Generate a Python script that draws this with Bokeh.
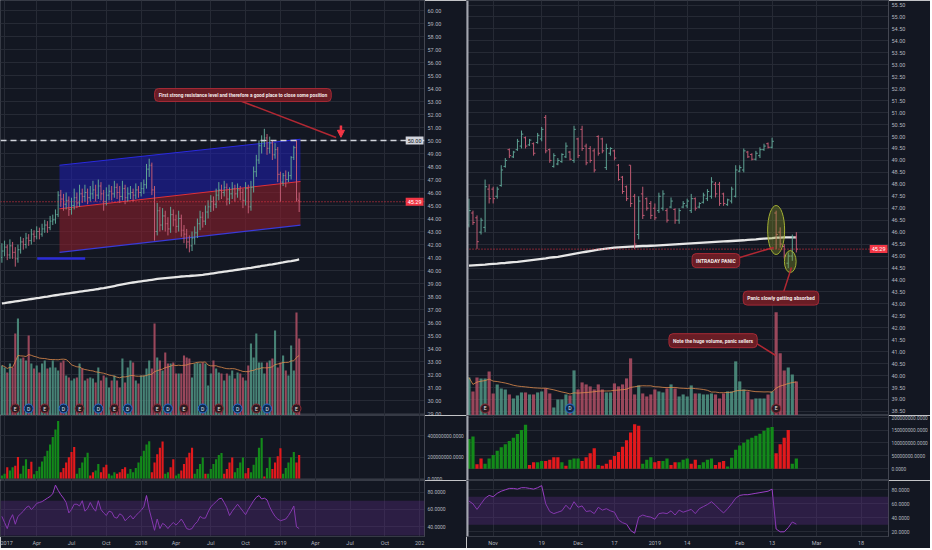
import numpy as np
import pandas as pd
from bokeh.plotting import figure
from bokeh.models import (Range1d, FixedTicker, NumeralTickFormatter, ColumnDataSource,
                          Label, Span, Arrow, NormalHead, BoxAnnotation)
from bokeh.layouts import row, column
from bokeh.embed import file_html
from bokeh.resources import INLINE
from bokeh.core.properties import value

# ---------------- DATA: left chart (weekly bars, 2017 - Feb 2019) ----------------
opens_w = [41.0, 41.5, 41.8, 41.2, 41.9, 41.4, 40.9, 41.6, 42.2, 42.0,
           42.5, 42.3, 42.8, 42.6, 43.0, 42.8, 43.2, 43.5, 43.3, 43.8,
           43.9, 44.3, 45.8, 45.5, 45.1, 45.4, 44.7, 45.0, 45.6, 45.2,
           45.9, 45.7, 46.0, 45.6, 45.9, 46.2, 45.8, 46.5, 45.9, 45.3,
           45.8, 46.1, 45.9, 46.4, 46.0, 45.7, 46.3, 45.6, 45.9, 46.0,
           45.8, 46.2, 46.0, 46.3, 46.6, 47.8, 48.1, 46.2, 43.0, 44.6,
           43.5, 44.2, 43.6, 43.2, 44.3, 43.9, 43.4, 44.0, 43.1, 42.8,
           42.2, 41.9, 42.5, 42.9, 43.6, 44.1, 43.8, 44.5, 44.9, 45.3,
           45.1, 45.8, 46.2, 46.0, 46.4, 45.5, 45.9, 46.3, 45.9, 46.2,
           46.0, 45.4, 46.3, 44.9, 46.4, 47.6, 48.5, 49.6, 49.9, 50.2,
           49.4, 49.8, 48.9, 49.3, 47.4, 46.8, 47.3, 47.0, 47.3, 48.7,
           49.45, 45.4]
highs_w = [42.1, 42.3, 42.0, 42.4, 42.2, 41.8, 42.0, 42.6, 42.5, 42.9,
           42.8, 43.2, 43.1, 43.4, 43.3, 43.6, 43.9, 43.8, 44.2, 44.3,
           44.7, 46.1, 46.2, 45.9, 46.0, 45.7, 45.6, 46.3, 46.0, 46.6,
           46.3, 46.6, 46.3, 46.5, 46.9, 46.6, 47.0, 46.8, 46.2, 46.4,
           46.6, 46.5, 46.9, 46.7, 46.5, 46.9, 46.6, 46.4, 46.5, 46.3,
           46.7, 46.5, 46.8, 47.0, 48.2, 48.6, 48.3, 46.5, 45.2, 44.9,
           44.8, 44.6, 44.1, 44.9, 44.7, 44.3, 44.6, 44.3, 43.5, 43.2,
           42.7, 43.0, 43.4, 44.0, 44.6, 44.5, 45.0, 45.4, 45.8, 45.7,
           46.3, 46.8, 46.6, 46.9, 46.7, 46.4, 46.8, 46.6, 46.7, 46.5,
           46.3, 46.8, 46.6, 46.9, 48.0, 48.9, 50.0, 50.4, 50.9, 50.5,
           50.3, 50.0, 49.8, 49.5, 47.6, 47.5, 47.7, 47.6, 48.8, 49.6,
           50.0, 46.0]
lows_w = [40.6, 41.1, 40.8, 40.9, 40.9, 40.3, 40.6, 41.3, 41.6, 41.7,
          41.9, 42.0, 42.2, 42.4, 42.4, 42.6, 42.9, 42.9, 43.1, 43.5,
          43.6, 44.1, 44.9, 44.6, 44.7, 44.2, 44.3, 44.7, 44.8, 44.9,
          45.2, 45.3, 45.1, 45.3, 45.5, 45.3, 45.5, 45.4, 44.6, 45.0,
          45.4, 45.4, 45.6, 45.5, 45.2, 45.4, 45.1, 45.3, 45.5, 45.3,
          45.5, 45.6, 45.7, 45.9, 46.3, 47.2, 45.8, 42.3, 42.7, 43.0,
          43.1, 43.0, 42.7, 42.9, 43.4, 42.9, 43.0, 42.6, 42.1, 41.7,
          41.4, 41.5, 42.0, 42.5, 43.1, 43.3, 43.5, 44.0, 44.5, 44.6,
          44.8, 45.4, 45.5, 45.7, 45.0, 45.1, 45.5, 45.3, 45.6, 45.4,
          44.8, 45.0, 44.4, 44.6, 46.0, 47.2, 48.2, 49.0, 49.5, 48.9,
          49.0, 48.5, 48.6, 46.8, 45.3, 46.5, 46.4, 46.8, 47.0, 48.5,
          45.3, 44.5]
closes_w = [41.5, 41.8, 41.2, 41.9, 41.4, 40.9, 41.6, 42.2, 42.0, 42.5,
            42.3, 42.8, 42.6, 43.0, 42.8, 43.2, 43.5, 43.3, 43.8, 43.9,
            44.3, 45.8, 45.5, 45.1, 45.4, 44.7, 45.0, 45.6, 45.2, 45.9,
            45.7, 46.0, 45.6, 45.9, 46.2, 45.8, 46.5, 45.9, 45.3, 45.8,
            46.1, 45.9, 46.4, 46.0, 45.7, 46.3, 45.6, 45.9, 46.0, 45.8,
            46.2, 46.0, 46.3, 46.6, 47.8, 48.1, 46.2, 43.0, 44.6, 43.5,
            44.2, 43.6, 43.2, 44.3, 43.9, 43.4, 44.0, 43.1, 42.8, 42.2,
            41.9, 42.5, 42.9, 43.6, 44.1, 43.8, 44.5, 44.9, 45.3, 45.1,
            45.8, 46.2, 46.0, 46.4, 45.5, 45.9, 46.3, 45.9, 46.2, 46.0,
            45.4, 46.3, 44.9, 46.4, 47.6, 48.5, 49.6, 49.9, 50.2, 49.4,
            49.8, 48.9, 49.3, 47.4, 46.8, 47.3, 47.0, 47.3, 48.7, 49.45,
            45.5, 45.29]
# relative volume (the overlay scale is hidden in the reference)
vol_w = [50, 48, 43, 52, 48, 82, 97, 57, 58, 55,
         80, 52, 47, 50, 43, 52, 55, 47, 48, 55,
         48, 45, 53, 55, 40, 38, 35, 37, 38, 52,
         47, 35, 37, 38, 37, 33, 48, 35, 40, 38,
         28, 35, 40, 35, 28, 57, 33, 48, 55, 53,
         35, 32, 40, 40, 47, 55, 47, 92, 58, 55,
         45, 63, 52, 52, 53, 42, 42, 42, 60, 58,
         57, 38, 52, 53, 52, 53, 52, 30, 42, 55,
         47, 43, 42, 35, 42, 40, 45, 37, 43, 42,
         38, 35, 50, 72, 58, 82, 53, 53, 42, 53,
         55, 57, 85, 48, 53, 60, 45, 40, 70, 45,
         103, 77]
ma200_w = [37.48, 37.50, 37.53, 37.56, 37.59, 37.62, 37.65, 37.68, 37.72, 37.75,
           37.78, 37.81, 37.84, 37.87, 37.90, 37.94, 37.97, 38.00, 38.04, 38.07,
           38.10, 38.13, 38.16, 38.19, 38.22, 38.25, 38.28, 38.31, 38.34, 38.37,
           38.40, 38.43, 38.46, 38.49, 38.52, 38.55, 38.58, 38.62, 38.65, 38.69,
           38.73, 38.77, 38.81, 38.85, 38.89, 38.93, 38.97, 39.01, 39.05, 39.08,
           39.11, 39.14, 39.17, 39.20, 39.23, 39.26, 39.29, 39.32, 39.35, 39.38,
           39.40, 39.42, 39.44, 39.46, 39.48, 39.50, 39.52, 39.54, 39.55, 39.57,
           39.58, 39.60, 39.61, 39.63, 39.65, 39.67, 39.70, 39.73, 39.76, 39.79,
           39.82, 39.85, 39.88, 39.91, 39.94, 39.97, 40.00, 40.03, 40.06, 40.09,
           40.12, 40.15, 40.18, 40.21, 40.25, 40.28, 40.31, 40.35, 40.38, 40.41,
           40.45, 40.48, 40.52, 40.55, 40.59, 40.62, 40.66, 40.70, 40.73, 40.77,
           40.81, 40.85]
# accumulated-volume histogram, millions (sign = green / red)
acc_w = [30, 45, -106, 76, 106, -120, -203, 45, 120, 182, -90, -158,
         40, 70, 110, 160, 210, 260, 320, 390, 460, 540,
         -60, -100, -150, -200, -250, -295,
         45, 100, 150, 200, 242,
         -30, -60, 76, 136, -60, -106, -130, 45, 30, 60,
         -45, -60, -90, -106, 45, 90,
         60, 100, 150, 210, 260, 320, 350,
         -60, -150, -227, -288, -348,
         45, 60, -106, -182, 30, 45,
         -76, -136, -197, -242, -288,
         45, 90, 136, 197, -45,
         45, 90, 136, 180, 220, 240,
         -45, -90, -150, -197,
         60, 100, 150, 197, -50, -100,
         60, 130, 200, 290, 380, -20, 100, 200,
         -90, -150, -210, -285,
         45, 100, 150, 200, 250, -150, -222]
rsi_w = [52, 45, 38, 48, 54, 43, 52, 55, 58, 62,
         64, 60, 63, 67, 68, 69, 71, 73, 75, 78,
         88, 82, 77, 73, 68, 56, 60, 66, 66, 64,
         70, 58, 61, 68, 62, 58, 70, 60, 56, 53,
         58, 57, 51, 50, 55, 53, 47, 50, 53, 49,
         53, 56, 59, 63, 76, 60, 48, 36, 49, 38,
         44, 42, 38, 42, 45, 42, 45, 49, 44, 38,
         37, 38, 43, 46, 52, 50, 50, 57, 63, 66,
         69, 72, 73, 68, 62, 53, 58, 62, 66, 62,
         58, 54, 60, 65, 70, 74, 76, 72, 73, 71,
         63, 57, 52, 49, 47, 48, 49, 53, 58, 64,
         40, 38]
earnings_w = [5, 16, 29, 42, 58, 68, 81, 95, 110]
dividends_w = [10, 23, 36, 47, 62, 75, 88, 99]
channel_bars = [22, 111]
channel_upper = [48.1, 50.1]
channel_mid = [44.75, 46.85]
channel_lower = [41.4, 43.5]
resistance_level = 50.00
last_price = 45.29
left_tick_pos = [1, 13, 26, 39, 52, 65, 78, 91, 104, 117, 130, 143, 156]
left_tick_labels = ["2017", "Apr", "Jul", "Oct", "2018", "Apr", "Jul", "Oct",
                    "2019", "Apr", "Jul", "Oct", "202"]

# ---------------- DATA: right chart (daily bars, 24 Oct 2018 - 22 Feb 2019) ----------------
opens_d = [46.3, 46.8, 46.6, 46.0, 46.2, 47.8, 47.8,
           47.5, 47.95, 48.75, 49.45, 49.15, 49.45, 49.6, 49.95, 49.65, 49.7,
           49.75, 49.9, 50.8, 49.45, 48.75, 48.85, 48.95, 49.15, 49.35, 49.0,
           49.9, 50.3, 49.6, 49.5, 49.4, 50.0, 49.9, 48.7, 49.3, 49.4,
           48.8, 48.3, 47.9, 48.8, 47.5, 45.9, 47.6, 47.4, 47.2, 47.0,
           46.9, 47.0, 46.9, 47.05, 46.95, 46.5, 47.05, 47.1, 46.9, 47.4,
           47.05, 47.25, 47.4, 47.5, 48.0, 48.0, 47.6, 47.15, 47.3, 47.5,
           48.55, 48.6, 49.35, 49.25, 49.05, 49.2, 49.45, 49.7, 49.55, 46.8,
           46.0, 45.4, 44.7, 45.0, 45.8]
highs_d = [47.4, 46.9, 46.7, 46.6, 48.2, 48.0, 47.9,
           47.9, 48.8, 49.1, 49.5, 49.4, 49.9, 50.25, 50.0, 49.9, 49.75,
           50.15, 50.4, 50.9, 49.5, 49.3, 49.1, 49.3, 49.75, 49.4, 50.45,
           49.95, 50.45, 49.7, 49.6, 49.5, 50.05, 49.95, 49.7, 49.55, 49.45,
           48.85, 48.35, 47.95, 48.8, 47.6, 47.5, 47.9, 47.45, 47.3, 47.2,
           47.65, 47.75, 47.0, 47.45, 47.0, 47.0, 47.3, 47.4, 47.6, 47.45,
           47.25, 47.65, 47.8, 48.3, 48.1, 48.1, 47.65, 47.4, 47.9, 48.8,
           48.8, 49.5, 49.4, 49.3, 49.4, 49.55, 49.7, 49.75, 49.95, 46.9,
           46.2, 45.5, 45.15, 45.9, 46.0]
lows_d = [46.2, 46.3, 45.3, 45.9, 46.0, 47.2, 47.2,
          47.4, 47.9, 48.7, 49.1, 49.1, 49.4, 49.5, 49.5, 49.6, 49.2,
          49.7, 49.8, 49.3, 48.9, 48.7, 48.8, 48.9, 49.1, 49.0, 48.9,
          49.1, 49.4, 48.8, 48.9, 48.5, 49.2, 49.3, 48.6, 49.2, 49.0,
          48.15, 47.6, 47.3, 47.05, 45.3, 45.7, 46.55, 46.9, 46.55, 46.5,
          46.8, 46.9, 46.4, 47.0, 46.35, 46.35, 47.0, 47.0, 46.8, 46.9,
          47.0, 47.2, 47.3, 47.4, 47.45, 47.1, 47.1, 47.1, 47.2, 47.45,
          48.5, 48.5, 49.1, 49.0, 49.0, 49.1, 49.4, 49.5, 49.5, 45.3,
          45.35, 44.9, 44.5, 44.8, 45.15]
closes_d = [46.9, 46.4, 45.6, 46.5, 47.9, 47.4, 47.4,
            47.8, 48.6, 49.0, 49.2, 49.35, 49.8, 50.1, 49.6, 49.85, 49.3,
            50.05, 50.3, 49.4, 49.0, 49.2, 49.0, 49.25, 49.6, 49.05, 50.3,
            49.2, 49.5, 48.9, 49.0, 48.6, 49.3, 49.4, 49.5, 49.5, 49.1,
            48.2, 47.7, 47.4, 47.2, 45.5, 47.3, 46.7, 47.0, 46.7, 46.6,
            47.5, 47.6, 46.5, 47.3, 46.5, 46.9, 47.2, 47.3, 47.4, 47.0,
            47.2, 47.55, 47.7, 48.1, 47.6, 47.2, 47.2, 47.35, 47.8, 48.6,
            48.7, 49.4, 49.15, 49.05, 49.3, 49.45, 49.6, 49.55, 49.8, 45.9,
            45.5, 45.0, 45.0, 45.8, 45.29]
vol_d = [38, 24, 38, 37, 37, 44, 22,
         31, 27, 26, 21, 17, 20, 23, 23, 21, 21,
         23, 24, 27, 22, 8, 16, 16, 21, 20, 45,
         26, 33, 31, 29, 26, 31, 26, 23, 23, 32,
         29, 31, 37, 57, 21, 30, 22, 19, 21, 26,
         24, 23, 27, 31, 27, 19, 21, 19, 30, 22,
         22, 21, 21, 22, 21, 17, 22, 24, 24, 54,
         34, 26, 24, 16, 17, 17, 17, 21, 24, 103,
         62, 45, 48, 41, 34]
ma200_d = [44.60, 44.61, 44.62, 44.63, 44.64, 44.66, 44.67,
           44.68, 44.70, 44.71, 44.73, 44.75, 44.76, 44.78, 44.80, 44.82, 44.84,
           44.86, 44.88, 44.90, 44.93, 44.95, 44.97, 45.00, 45.03, 45.06, 45.09,
           45.12, 45.15, 45.18, 45.21, 45.24, 45.27, 45.29, 45.31, 45.33, 45.35,
           45.36, 45.37, 45.38, 45.39, 45.40, 45.41, 45.42, 45.42, 45.43, 45.44,
           45.45, 45.46, 45.47, 45.48, 45.49, 45.50, 45.51, 45.52, 45.53, 45.54,
           45.55, 45.56, 45.57, 45.58, 45.59, 45.60, 45.61, 45.62, 45.63, 45.64,
           45.65, 45.66, 45.68, 45.69, 45.70, 45.72, 45.73, 45.74, 45.75, 45.77,
           45.77, 45.78, 45.78, 45.78, 45.78]
acc_d = [115, 125, -18, -40, 20, 40, 53,
         70, 83, 95, 108, 120, 135, 150, 170, -15, -25,
         25, 30, -30, -35, -45, -45, 25, -12, 35, 40,
         40, -30, -45, -60, -80, 15, -12, -20, -35, -50,
         -65, -85, -110, -140, -172, -166, 20, 35, 45, -25,
         -30, 30, 40, -15, -25, 25, 35, 40, -20, -35,
         15, 25, 35, 40, -15, -25, -30, 9, 43, 74,
         90, 101, 113, 120, 128, 136, 147, 159, 162, -60,
         -95, -120, -150, 20, 40]
rsi_d = [64, 60, 52, 60, 68, 72, 70,
         75, 78, 80, 82, 82, 81, 83, 83, 82, 81,
         83, 86, 60, 49, 46, 48, 50, 58, 52, 63,
         55, 57, 49, 50, 46, 55, 51, 53, 50, 48,
         37, 33, 31, 22, 18, 41, 44, 42, 41, 38,
         46, 47, 46, 50, 44, 51, 48, 50, 52, 46,
         53, 56, 59, 63, 58, 52, 47, 53, 60, 68,
         72, 73, 73, 74, 75, 76, 77, 78, 81, 24,
         20, 20, 26, 34, 31]
first_day = -6          # 24 Oct 2018; bar 0 = 1 Nov 2018
earnings_d = [-2, 70]
dividends_d = [19]
right_tick_pos = [0, 12, 21, 30, 40, 48, 61, 69, 80, 91]
right_tick_labels = ["Nov", "19", "Dec", "17", "2019", "14", "Feb", "13", "Mar", "18"]

for arr in (opens_w, highs_w, lows_w, closes_w, vol_w, ma200_w, acc_w, rsi_w):
    assert len(arr) == 112, len(arr)
for arr in (opens_d, highs_d, lows_d, closes_d, vol_d, ma200_d, acc_d, rsi_d):
    assert len(arr) == 82, len(arr)

# ---------------- STYLE ----------------
BG = "#131722"
GRID = "#262a35"
AXIS_TXT = "#b2b5be"
UP = "#5fa394"
DN = "#bf5a72"
VOL_UP = "#4e8f80"
VOL_DN = "#a84c62"
HIST_UP = "#138a1a"
HIST_DN = "#e3191c"
RED = "#f23645"
FONT = "Roboto"
RB = 40
H_MAIN, H_ACC, H_RSI = 415, 65, 68
W_LEFT, W_RIGHT = 466, 464


def make_fig(w, h, xr, yr, bottom=0):
    p = figure(width=w, height=h, x_range=xr, y_range=yr, output_backend="svg",
               toolbar_location=None, y_axis_location="right",
               background_fill_color=BG, border_fill_color=BG,
               min_border_left=0, min_border_right=RB, min_border_top=0,
               min_border_bottom=bottom, outline_line_color="#363a45")
    p.xgrid.grid_line_color = GRID
    p.ygrid.grid_line_color = GRID
    return p


def style_y(p, ticks, fmt, size):
    p.yaxis.ticker = FixedTicker(ticks=list(ticks))
    p.ygrid.ticker = FixedTicker(ticks=list(ticks))
    p.yaxis.formatter = NumeralTickFormatter(format=fmt)
    p.yaxis.major_label_text_font_size = size
    p.yaxis.major_label_text_color = AXIS_TXT
    p.yaxis.major_label_text_font = FONT
    p.yaxis.axis_line_color = "#434651"
    p.yaxis.major_tick_line_color = None
    p.yaxis.minor_tick_line_color = None
    p.yaxis.major_tick_out = 0
    p.yaxis.major_tick_in = 0
    p.yaxis.minor_tick_out = 0
    p.yaxis.minor_tick_in = 0
    p.yaxis.major_label_standoff = 3


def style_x(p, ticks, labels, show):
    p.xgrid.ticker = FixedTicker(ticks=ticks)
    if show:
        p.xaxis.ticker = FixedTicker(ticks=ticks)
        p.xaxis.major_label_overrides = {t: lab for t, lab in zip(ticks, labels)}
        p.xaxis.major_label_text_font_size = "5.5px"
        p.xaxis.major_label_text_color = AXIS_TXT
        p.xaxis.major_label_text_font = FONT
        p.xaxis.axis_line_color = "#363a45"
        p.xaxis.major_tick_line_color = None
        p.xaxis.minor_tick_line_color = None
        p.xaxis.major_tick_out = 0
        p.xaxis.major_tick_in = 0
        p.xaxis.minor_tick_out = 0
        p.xaxis.minor_tick_in = 0
        p.xaxis.major_label_standoff = 3
    else:
        p.xaxis.visible = False


def divider(p, xr):
    # light vertical separator between the two charts
    p.add_layout(Span(location=xr.start, dimension="height", line_color="#a3a6af",
                      line_width=4, level="overlay"))


def draw_volume(p, x, vol, o, c):
    cols = [VOL_UP if cc >= oo else VOL_DN for oo, cc in zip(o, c)]
    p.vbar(x=list(x), top=vol, bottom=0, width=0.78, fill_color=cols,
           line_color=None, fill_alpha=0.9, y_range_name="vol")
    vma = pd.Series(vol, dtype=float).rolling(20, min_periods=1).mean().tolist()
    p.line(list(x), vma, line_color="#e08b4c", line_width=0.8, y_range_name="vol")


def draw_ohlc(p, x, o, h, l, c, tick):
    cols = [UP if cc >= oo else DN for oo, cc in zip(o, c)]
    xs = list(x)
    src = ColumnDataSource(dict(x=xs, o=o, h=h, l=l, c=c, col=cols,
                                xl=[v - tick for v in xs], xr=[v + tick for v in xs]))
    p.segment(x0="x", y0="l", x1="x", y1="h", source=src, line_color="col", line_width=1)
    p.segment(x0="xl", y0="o", x1="x", y1="o", source=src, line_color="col", line_width=1)
    p.segment(x0="x", y0="c", x1="xr", y1="c", source=src, line_color="col", line_width=1)


def draw_events(p, xs, letter, fill, line, size):
    ys = [7] * len(xs)
    p.scatter(xs, ys, marker="circle", size=size, fill_color=fill, line_color=line,
              line_width=1, y_range_name="vol")
    p.text(xs, ys, text=[letter] * len(xs), text_font=value(FONT), text_font_size="5px",
           text_color="#e8e8e8", text_align="center", text_baseline="middle",
           y_range_name="vol")


def axis_tag(p, x, y, text, bg, fg):
    # price tag at the right edge of the pane (labels outside the frame are clipped)
    p.add_layout(Label(x=x, y=y, text=text, x_offset=-1, text_align="right",
                       text_baseline="middle", text_font_size="5.5px", text_font=FONT,
                       text_color=fg, background_fill_color=bg, background_fill_alpha=1.0,
                       padding=2, level="overlay"))


def callout(p, x, y, text, size):
    p.add_layout(Label(x=x, y=y, text=text, text_align="center", text_baseline="middle",
                       text_font_size=size, text_font_style="bold", text_font=FONT,
                       text_color="#f3e9e9", background_fill_color="#6e1d26",
                       background_fill_alpha=0.95, border_line_color="#a52a36",
                       border_line_width=1, padding=4, border_radius=4))


def draw_acc(p, x, acc):
    tops = [abs(a) * 1e6 for a in acc]
    cols = [HIST_UP if a > 0 else HIST_DN for a in acc]
    p.vbar(x=list(x), top=tops, bottom=0, width=0.8, fill_color=cols, line_color=None)


def draw_rsi(p, x, rsi):
    p.add_layout(BoxAnnotation(bottom=30, top=70, fill_color="#5b2c83", fill_alpha=0.35,
                               line_color=None))
    p.line(list(x), rsi, line_color="#9b3fc6", line_width=1)


# ---------------- LEFT ----------------
xw = list(range(len(closes_w)))
xr_l = Range1d(-0.52, 157.8)

pl = make_fig(W_LEFT, H_MAIN, xr_l, Range1d(28.85, 60.77))
pl.extra_y_ranges = {"vol": Range1d(0, 415)}
style_y(pl, range(29, 61), "0.00", "5.5px")
style_x(pl, left_tick_pos, left_tick_labels, False)
draw_volume(pl, xw, vol_w, opens_w, closes_w)

xa, xb = channel_bars[0] - 0.5, channel_bars[1] + 0.5
pl.patch([xa, xb, xb, xa], [channel_mid[0], channel_mid[1], channel_upper[1], channel_upper[0]],
         fill_color="#1f1fb4", fill_alpha=0.55, line_color=None)
pl.patch([xa, xb, xb, xa], [channel_lower[0], channel_lower[1], channel_mid[1], channel_mid[0]],
         fill_color="#8b1e2c", fill_alpha=0.6, line_color=None)
pl.line([xa, xb], channel_upper, line_color="#2a2ae0", line_width=1)
pl.line([xa, xb], channel_mid, line_color="#e0303a", line_width=1)
pl.line([xa, xb], channel_lower, line_color="#3a3ad8", line_width=1.3)
pl.line([13.2, 31.1], [40.92, 40.92], line_color="#2b2bd8", line_width=2.5)

pl.line(xw, ma200_w, line_color="#e6e6e6", line_width=2.3)
draw_ohlc(pl, xw, opens_w, highs_w, lows_w, closes_w, 0.4)
pl.add_layout(Span(location=resistance_level, dimension="width", line_color="#d1d4dc",
                   line_dash="6 4", line_width=1.4))
pl.add_layout(Span(location=last_price, dimension="width", line_color=RED,
                   line_dash="1 2", line_width=1))
draw_events(pl, earnings_w, "E", "#2b1b22", "#8d2a35", 9)
draw_events(pl, dividends_w, "D", "#0e2a4d", "#2a6fd6", 9)

pl.segment(x0=[88.7], y0=[53.08], x1=[124.8], y1=[50.23], line_color="#b22833", line_width=1.5)
callout(pl, 90, 53.5,
        "First strong resistance level and therefore a good place to close some position",
        "4.8px")
pl.add_layout(Arrow(end=NormalHead(size=7, fill_color=RED, line_color=RED),
                    x_start=126.6, y_start=51.15, x_end=126.6, y_end=50.25,
                    line_color=RED, line_width=2.5))
axis_tag(pl, xr_l.end, resistance_level, "50.00", "#d1d4dc", "#131722")
axis_tag(pl, xr_l.end, last_price, "45.29", RED, "#ffffff")

pa = make_fig(W_LEFT, H_ACC, xr_l, Range1d(-18e6, 591e6))
style_y(pa, [0, 200e6, 400e6], "0.0000", "4.8px")
style_x(pa, left_tick_pos, left_tick_labels, False)
draw_acc(pa, xw, acc_w)

pr = make_fig(W_LEFT, H_RSI, xr_l, Range1d(28.9, 93.3), bottom=12)
style_y(pr, [40, 60, 80], "0.0000", "5px")
style_x(pr, left_tick_pos, left_tick_labels, True)
draw_rsi(pr, xw, rsi_w)

# ---------------- RIGHT ----------------
xd = list(range(first_day, first_day + len(closes_d)))
xr_r = Range1d(-6.6, 97.8)

qm = make_fig(W_RIGHT, H_MAIN, xr_r, Range1d(38.33, 55.69))
qm.extra_y_ranges = {"vol": Range1d(0, 414)}
style_y(qm, np.arange(38.5, 55.51, 0.5), "0.00", "5.5px")
style_x(qm, right_tick_pos, right_tick_labels, False)
draw_volume(qm, xd, vol_d, opens_d, closes_d)
qm.line(xd, ma200_d, line_color="#e6e6e6", line_width=2.3)
draw_ohlc(qm, xd, opens_d, highs_d, lows_d, closes_d, 0.45)
qm.add_layout(Span(location=last_price, dimension="width", line_color=RED,
                   line_dash="1 2", line_width=1))
draw_events(qm, earnings_d, "E", "#2b1b22", "#8d2a35", 9)
draw_events(qm, dividends_d, "D", "#0e2a4d", "#2a6fd6", 9)

qm.ellipse(x=[70.0], y=[46.09], width=[4.2], height=[2.05], fill_color="#8c9a25",
           fill_alpha=0.35, line_color="#a3b034", line_width=1)
qm.ellipse(x=[73.5], y=[44.77], width=[2.9], height=[0.92], fill_color="#8c9a25",
           fill_alpha=0.35, line_color="#a3b034", line_width=1)
qm.segment(x0=[60.2, 71.8, 65.2], y0=[44.9, 43.47, 41.34], x1=[69.4, 73.8, 69.9],
           y1=[45.36, 44.52, 40.84], line_color="#b22833", line_width=1.5)
callout(qm, 55.1, 44.81, "INTRADAY PANIC", "5px")
callout(qm, 71.2, 43.24, "Panic slowly getting absorbed", "5px")
callout(qm, 54.4, 41.46, "Note the huge volume, panic sellers", "5px")
axis_tag(qm, xr_r.end, last_price, "45.29", RED, "#ffffff")
divider(qm, xr_r)

qa = make_fig(W_RIGHT, H_ACC, xr_r, Range1d(-45e6, 206e6))
style_y(qa, [0, 50e6, 100e6, 150e6, 200e6], "0.0000", "4.8px")
style_x(qa, right_tick_pos, right_tick_labels, False)
draw_acc(qa, xd, acc_d)
divider(qa, xr_r)

qr = make_fig(W_RIGHT, H_RSI, xr_r, Range1d(13.3, 93.3), bottom=12)
style_y(qr, [20, 40, 60, 80], "0.0000", "5px")
style_x(qr, right_tick_pos, right_tick_labels, True)
draw_rsi(qr, xd, rsi_d)
divider(qr, xr_r)

layout = row(column(pl, pa, pr), column(qm, qa, qr))
open("out.html", "w").write(file_html(layout, INLINE, title="chart"))
